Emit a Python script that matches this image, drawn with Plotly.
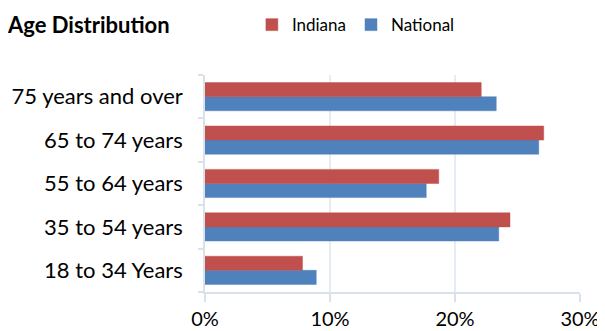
import plotly.graph_objects as go

# Données (part de la population)
categories = ["18 to 34 Years", "35 to 54 years", "55 to 64 years", "65 to 74 years", "75 years and over"]
indiana = [0.078, 0.244, 0.187, 0.271, 0.221]
national = [0.089, 0.235, 0.177, 0.267, 0.233]

RED = "#C0504D"
BLUE = "#4F81BD"
GRID = "#E6ECF3"
AXIS = "#D9E1EA"
FONT = "Lato, Carlito, Calibri, sans-serif"

# la page ajoute une marge de 8 px autour de la figure : on compense ici
OFF = 8

fig = go.Figure()

# National d'abord pour que la barre Indiana soit au-dessus dans chaque groupe
fig.add_trace(go.Bar(
    y=categories, x=national, orientation="h", name="National",
    marker=dict(color=BLUE, line=dict(color="rgba(79,129,189,0.45)", width=1)),
    legendrank=2
))
fig.add_trace(go.Bar(
    y=categories, x=indiana, orientation="h", name="Indiana",
    marker=dict(color=RED, line=dict(color="rgba(192,80,77,0.45)", width=1)),
    legendrank=1
))

fig.update_layout(
    width=605, height=331,
    margin=dict(l=205 - OFF, r=25 + OFF, t=75 - OFF, b=39 + OFF, autoexpand=False),
    barmode="group",
    bargap=0.35,
    bargroupgap=0,
    plot_bgcolor="white",
    paper_bgcolor="white",
    font=dict(family=FONT, size=22, color="#000000"),
    title=dict(
        text="<b>Age Distribution</b>",
        x=0, xanchor="left", xref="container",
        y=1 - (25 - OFF) / 331, yanchor="middle",
        font=dict(family=FONT, size=22, color="#000000")
    ),
    legend=dict(
        orientation="h",
        x=0.125, xanchor="left", xref="paper",
        y=1.23, yanchor="middle",
        font=dict(family=FONT, size=17),
        itemwidth=30,
        bgcolor="rgba(0,0,0,0)"
    ),
    xaxis=dict(
        range=[0, 0.30], dtick=0.1, tickformat=".0%",
        showgrid=True, gridcolor=GRID, gridwidth=1.5,
        showline=True, linecolor=AXIS, linewidth=1.5,
        ticks="outside", ticklen=8, tickcolor=AXIS, tickwidth=1.5,
        ticklabelstandoff=0, tickfont=dict(size=20),
        automargin=False, zeroline=False, fixedrange=True
    ),
    yaxis=dict(
        showgrid=False,
        showline=True, linecolor=AXIS, linewidth=1.5,
        ticks="outside", ticklen=5, tickcolor=AXIS, tickwidth=1.5,
        tickson="boundaries",
        ticklabelstandoff=16, tickfont=dict(size=22),
        automargin=False, zeroline=False, fixedrange=True
    ),
    showlegend=True
)

fig.write_html("out.html")
